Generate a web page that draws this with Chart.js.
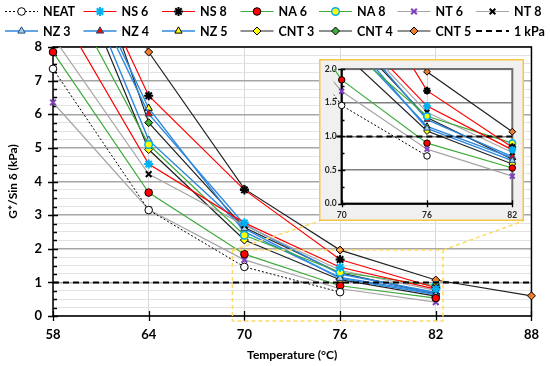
<!DOCTYPE html>
<html>
<head>
<meta charset="utf-8">
<script src="https://cdn.jsdelivr.net/npm/chart.js@4.4.1/dist/chart.umd.min.js"></script>
<style>
  body { margin: 0; background: #fff; }
  #wrap { position: relative; width: 550px; height: 366px; }
  #main { position: absolute; left: 0; top: 0; }
  #inset { position: absolute; left: 319px; top: 59px; }
</style>
</head>
<body>
<div id="wrap">
  <canvas id="main" width="550" height="366"></canvas>
  <canvas id="inset" width="205" height="162"></canvas>
</div>
<script>
// Temperatures (°C) and G*/sin δ (kPa), null = no point
const temps = [58, 64, 70, 76, 82, 88];
const neat = [7.35, 3.15, 1.46, 0.71, null, null];
const ns6 = [9.4, 4.52, 2.77, 1.45, 0.8, null];
const ns8 = [12.6, 6.55, 3.75, 1.68, 0.84, null];
const na6 = [7.85, 3.67, 1.84, 0.9, 0.53, null];
const na8 = [10.4, 5.1, 2.4, 1.3, 0.9, null];
const nt6 = [6.35, 3.17, 1.67, 0.81, 0.41, null];
const nt8 = [8.3, 4.22, 2.7, 1.36, 0.76, null];
const nz3 = [12.1, 5.23, 2.6, 1.12, 0.64, null];
const nz4 = [11.95, 6.01, 2.72, 1.25, 0.7, null];
const nz5 = [12.2, 6.18, 2.5, 1.15, 0.68, null];
const cnt3 = [11.8, 4.95, 2.26, 1.08, 0.59, null];
const cnt4 = [14.0, 5.75, 2.63, 1.28, 0.66, null];
const cnt5 = [14.0, 7.85, 3.78, 1.96, 1.07, 0.6];
const kpa1 = [1, 1, 1, 1, 1, 1];

const xTicks = [58, 64, 70, 76, 82, 88];
const insetXTicks = [70, 76, 82];
// area of the main plot shown in the inset (°C, kPa)
const zoomBox = { x0: 69.25, x1: 82.45, y0: -0.15, y1: 1.96 };

const FONT = 'Lato, "Liberation Sans", sans-serif';
const RED = '#ff0000';
const GREEN = '#3fab3a';
const GRAY = '#a6a6a6';
const BLUE = '#2e88dd';
const DARK = '#222222';

const series = [
  { label: 'NEAT', data: neat, line: '#000', dash: [2, 2], width: 1, style: 'circle', fill: '#fff', edge: '#000', edgeWidth: 1, radius: 3.8 },
  { label: 'NS 6', data: ns6, line: RED, width: 1.2, style: 'star', fill: '#00b0f0', edge: '#00b0f0', edgeWidth: 2, radius: 4.5 },
  { label: 'NS 8', data: ns8, line: RED, width: 1.2, style: 'star', fill: '#000', edge: '#000', edgeWidth: 2, radius: 4.5 },
  { label: 'NA 6', data: na6, line: GREEN, width: 1.2, style: 'circle', fill: '#ff0000', edge: '#000', edgeWidth: 1, radius: 3.8 },
  { label: 'NA 8', data: na8, line: GREEN, width: 1.2, style: 'circle', fill: '#ffff00', edge: '#00b0f0', edgeWidth: 1.5, radius: 3.8 },
  { label: 'NT 6', data: nt6, line: GRAY, width: 1.2, style: 'crossRot', fill: '#7f3fbf', edge: '#7f3fbf', edgeWidth: 2, radius: 4 },
  { label: 'NT 8', data: nt8, line: GRAY, width: 1.2, style: 'crossRot', fill: '#000', edge: '#000', edgeWidth: 2, radius: 4 },
  { label: 'NZ 3', data: nz3, line: BLUE, width: 1.4, style: 'triangle', fill: '#a9cdee', edge: '#1f4e79', edgeWidth: 1, radius: 4.2 },
  { label: 'NZ 4', data: nz4, line: BLUE, width: 1.4, style: 'triangle', fill: '#ff0000', edge: '#1f4e79', edgeWidth: 1, radius: 4.2 },
  { label: 'NZ 5', data: nz5, line: BLUE, width: 1.4, style: 'triangle', fill: '#ffff00', edge: '#000', edgeWidth: 1, radius: 4.2 },
  { label: 'CNT 3', data: cnt3, line: DARK, width: 1.2, style: 'rectRot', fill: '#ffff00', edge: '#000', edgeWidth: 1, radius: 4 },
  { label: 'CNT 4', data: cnt4, line: DARK, width: 1.2, style: 'rectRot', fill: '#3fab3a', edge: '#000', edgeWidth: 1, radius: 4 },
  { label: 'CNT 5', data: cnt5, line: DARK, width: 1.2, style: 'rectRot', fill: '#ed7d31', edge: '#000', edgeWidth: 1, radius: 4 },
  { label: '1 kPa', data: kpa1, line: '#000', dash: [6, 4], width: 2, style: null },
];

function toPoints(vals) {
  return temps.map((t, i) => ({ x: t, y: vals[i] })).filter((p) => p.y !== null);
}

function makeDatasets(k) {
  return series.map((s) => ({
    label: s.label,
    data: toPoints(s.data),
    borderColor: s.line,
    borderWidth: s.width,
    borderDash: s.dash || [],
    pointStyle: s.style || false,
    pointRadius: s.style ? s.radius * k : 0,
    pointBackgroundColor: s.fill,
    pointBorderColor: s.edge,
    pointBorderWidth: s.edgeWidth,
    tension: 0,
    order: s.style ? 0 : -1,
    clip: { left: 8, top: 0, right: 8, bottom: 8 },
  }));
}

function drawTicks(ctx, chart, xs, yStep, yMajor, len) {
  const { left, bottom } = chart.chartArea;
  const sx = chart.scales.x;
  const sy = chart.scales.y;
  ctx.save();
  ctx.strokeStyle = '#000';
  ctx.lineWidth = 1.3;
  ctx.beginPath();
  xs.forEach((v) => {
    const px = Math.round(sx.getPixelForValue(v)) + 0.5;
    ctx.moveTo(px, bottom - len);
    ctx.lineTo(px, bottom + len);
  });
  for (let v = sy.min; v <= sy.max + 1e-9; v += yStep) {
    const py = Math.round(sy.getPixelForValue(v)) + 0.5;
    const major = Math.abs(v / yMajor - Math.round(v / yMajor)) < 1e-6;
    ctx.moveTo(left - (major ? len : 0), py);
    ctx.lineTo(left + (major ? len : len * 0.8), py);
  }
  ctx.stroke();
  ctx.restore();
}

function drawLegend(ctx) {
  ctx.save();
  ctx.font = `bold 12.5px ${FONT}`;
  ctx.textBaseline = 'middle';
  series.forEach((s, i) => {
    const x0 = 5 + (i % 7) * 78.5;
    const y = 11.5 + Math.floor(i / 7) * 19.5;
    ctx.strokeStyle = s.line;
    ctx.lineWidth = s.width;
    ctx.setLineDash(s.dash || []);
    ctx.beginPath();
    ctx.moveTo(x0, y);
    ctx.lineTo(x0 + 33, y);
    ctx.stroke();
    ctx.setLineDash([]);
    if (s.style) {
      ctx.fillStyle = s.fill;
      ctx.strokeStyle = s.edge;
      ctx.lineWidth = s.edgeWidth;
      Chart.helpers.drawPoint(ctx, { pointStyle: s.style, radius: s.radius, borderWidth: s.edgeWidth, rotation: 0 }, x0 + 16.5, y);
    }
    ctx.fillStyle = '#000';
    ctx.fillText(s.label, x0 + 38, y + 0.5);
  });
  ctx.restore();
}

const mainFrame = {
  id: 'mainFrame',
  beforeDatasetsDraw(chart) {
    const { ctx, chartArea: a } = chart;
    ctx.save();
    ctx.strokeStyle = '#000';
    ctx.lineWidth = 1.5;
    ctx.strokeRect(a.left, a.top, a.right - a.left, a.bottom - a.top);
    ctx.restore();
    drawTicks(ctx, chart, xTicks, 0.25, 1, 5);
  },
  afterDraw(chart) {
    const { ctx } = chart;
    const sx = chart.scales.x;
    const sy = chart.scales.y;
    const l = sx.getPixelForValue(zoomBox.x0);
    const r = sx.getPixelForValue(zoomBox.x1);
    const t = sy.getPixelForValue(zoomBox.y1);
    const b = sy.getPixelForValue(zoomBox.y0);
    ctx.save();
    ctx.strokeStyle = '#ffd966';
    ctx.lineWidth = 1.5;
    ctx.setLineDash([4, 3]);
    ctx.strokeRect(l, t, r - l, b - t);
    ctx.beginPath();
    ctx.moveTo(l, t);
    ctx.lineTo(320, 221);
    ctx.moveTo(r, t);
    ctx.lineTo(523, 221);
    ctx.stroke();
    ctx.restore();
    drawLegend(ctx);
  },
};

const insetFrame = {
  id: 'insetFrame',
  beforeDraw(chart) {
    const { ctx, chartArea: a, width, height } = chart;
    ctx.save();
    ctx.fillStyle = '#f0f0f0';
    ctx.fillRect(0, 0, width, height);
    ctx.fillStyle = '#fff';
    ctx.fillRect(a.left, a.top, a.right - a.left, a.bottom - a.top);
    ctx.restore();
  },
  beforeDatasetsDraw(chart) {
    const { ctx, chartArea: a } = chart;
    ctx.save();
    ctx.strokeStyle = '#6e6e6e';
    ctx.lineWidth = 2;
    ctx.strokeRect(a.left, a.top, a.right - a.left, a.bottom - a.top);
    ctx.strokeStyle = '#000';
    ctx.beginPath();
    ctx.moveTo(a.left, a.top);
    ctx.lineTo(a.left, a.bottom);
    ctx.lineTo(a.right, a.bottom);
    ctx.stroke();
    ctx.restore();
    drawTicks(ctx, chart, insetXTicks, 0.25, 0.5, 3.5);
  },
  afterDraw(chart) {
    const { ctx, width, height } = chart;
    ctx.save();
    ctx.strokeStyle = '#f7c548';
    ctx.lineWidth = 1.5;
    ctx.strokeRect(0.75, 0.75, width - 1.5, height - 1.5);
    ctx.restore();
  },
};

const isInt = (v) => Math.abs(v - Math.round(v)) < 1e-6;
const isHalf = (v) => Math.abs(v * 2 - Math.round(v * 2)) < 1e-6;

new Chart(document.getElementById('main'), {
  type: 'line',
  data: { datasets: makeDatasets(1) },
  options: {
    responsive: false,
    animation: false,
    devicePixelRatio: 1,
    layout: { padding: { top: 47, right: 15, left: 0, bottom: 2 } },
    plugins: { legend: { display: false }, tooltip: { enabled: false } },
    scales: {
      x: {
        type: 'linear',
        min: 58,
        max: 88,
        afterFit: (s) => { s.height = 48; },
        afterBuildTicks: (s) => { s.ticks = xTicks.map((v) => ({ value: v })); },
        ticks: { color: '#000', padding: 11, font: { family: FONT, size: 13, weight: 'bold' } },
        grid: { color: '#d9d9d9', lineWidth: 1, drawTicks: false },
        border: { display: false },
        title: { display: true, text: 'Temperature (°C)', color: '#000', padding: { top: 4, bottom: 2 }, font: { family: FONT, size: 12, weight: 'bold' } },
      },
      y: {
        min: 0,
        max: 8,
        afterFit: (s) => { s.width = 53; },
        ticks: {
          stepSize: 0.25,
          autoSkip: false,
          color: '#000',
          padding: 11,
          font: { family: FONT, size: 13, weight: 'bold' },
          callback: (v) => (isInt(v) ? v : ''),
        },
        grid: {
          color: (c) => (isInt(c.tick.value) ? '#a6a6a6' : '#e3e3e3'),
          lineWidth: (c) => (isInt(c.tick.value) ? 1.5 : 1),
          drawTicks: false,
        },
        border: { display: false },
        title: { display: true, text: 'G*/Sin δ (kPa)', color: '#000', padding: 6, font: { family: FONT, size: 12, weight: 'bold' } },
      },
    },
  },
  plugins: [mainFrame],
});

new Chart(document.getElementById('inset'), {
  type: 'line',
  data: { datasets: makeDatasets(0.85) },
  options: {
    responsive: false,
    animation: false,
    devicePixelRatio: 1,
    layout: { padding: { top: 5, right: 11.7, left: 0, bottom: 0 } },
    plugins: { legend: { display: false }, tooltip: { enabled: false } },
    scales: {
      x: {
        type: 'linear',
        min: 70,
        max: 82,
        afterFit: (s) => { s.height = 17.3; },
        afterBuildTicks: (s) => { s.ticks = insetXTicks.map((v) => ({ value: v })); },
        ticks: { color: '#262626', padding: 6, font: { family: FONT, size: 8.5, weight: 'bold' } },
        grid: { color: '#d9d9d9', lineWidth: 1, drawTicks: false },
        border: { display: false },
      },
      y: {
        min: 0,
        max: 2,
        afterFit: (s) => { s.width = 22.7; },
        ticks: {
          stepSize: 0.25,
          autoSkip: false,
          color: '#262626',
          padding: 5,
          font: { family: FONT, size: 8.5, weight: 'bold' },
          callback: (v) => (isHalf(v) ? v.toFixed(1) : ''),
        },
        grid: {
          color: (c) => (isHalf(c.tick.value) ? '#7f7f7f' : 'rgba(0,0,0,0)'),
          lineWidth: 1.5,
          drawTicks: false,
        },
        border: { display: false },
      },
    },
  },
  plugins: [insetFrame],
});
</script>
</body>
</html>
